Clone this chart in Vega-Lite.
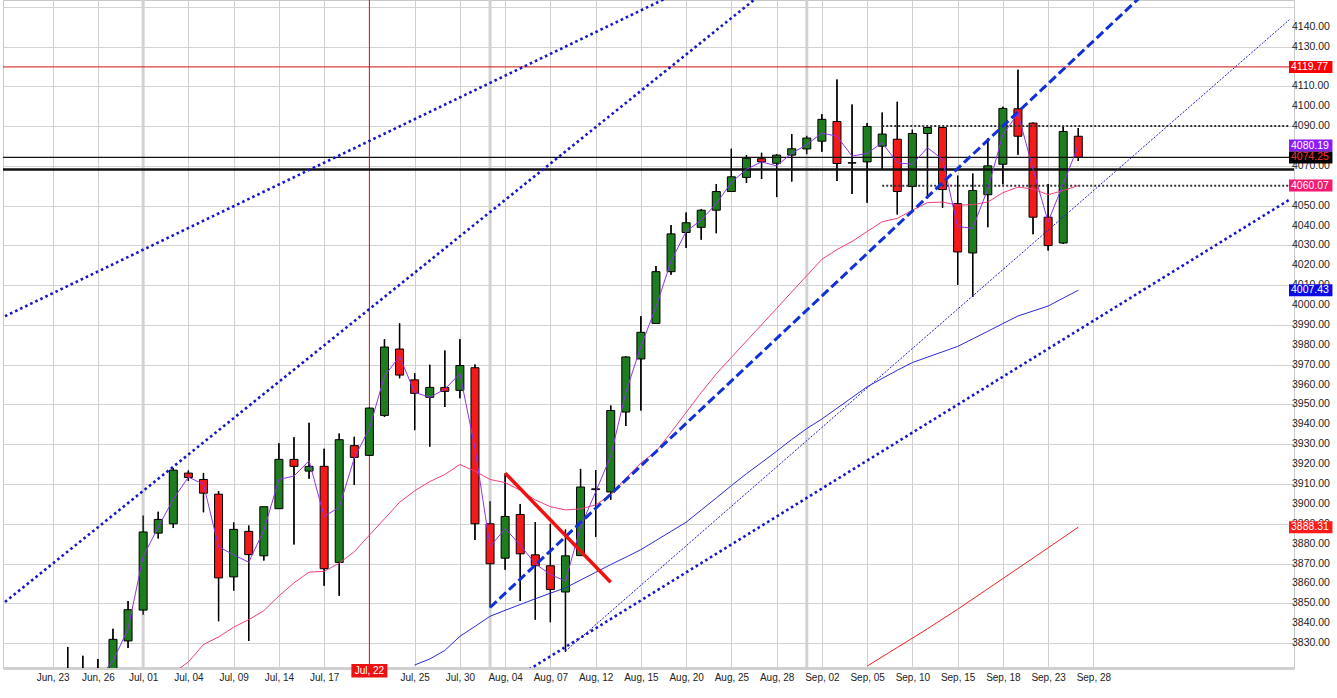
{
  "$schema": "https://vega.github.io/schema/vega-lite/v6.json",
  "width": 1291,
  "height": 668,
  "autosize": "none",
  "padding": {"left": 3, "top": 0, "right": 43, "bottom": 30},
  "background": "white",
  "config": {
    "view": {"stroke": "#c8c8c8"},
    "font": "Liberation Sans",
    "axis": {"labelOverlap": false, "labelFlush": false, "labelFont": "Liberation Sans", "labelColor": "#222", "ticks": false}
  },
  "datasets": {
    "candles": [
      {"i": 1, "o": 3812, "h": 3828.1, "l": 3800, "c": 3815},
      {"i": 2, "o": 3815, "h": 3823.7, "l": 3805, "c": 3812},
      {"i": 3, "o": 3812, "h": 3822, "l": 3800, "c": 3810},
      {"i": 4, "o": 3810, "h": 3837.2, "l": 3805, "c": 3831.9},
      {"i": 5, "o": 3831.1, "h": 3851.2, "l": 3827.6, "c": 3846.8},
      {"i": 6, "o": 3846.6, "h": 3894.2, "l": 3844.3, "c": 3885.9},
      {"i": 7, "o": 3885.3, "h": 3896.1, "l": 3882.6, "c": 3892.2},
      {"i": 8, "o": 3890, "h": 3918.1, "l": 3887.9, "c": 3917},
      {"i": 9, "o": 3915.5, "h": 3916.8, "l": 3911.5, "c": 3913.3},
      {"i": 10, "o": 3912.3, "h": 3915.6, "l": 3895.8, "c": 3905.4},
      {"i": 11, "o": 3904.9, "h": 3906.5, "l": 3841, "c": 3862.8},
      {"i": 12, "o": 3863.3, "h": 3890.7, "l": 3856.4, "c": 3887.2},
      {"i": 13, "o": 3886.2, "h": 3889.2, "l": 3831.1, "c": 3874.5},
      {"i": 14, "o": 3873.9, "h": 3898.6, "l": 3871.6, "c": 3898.6},
      {"i": 15, "o": 3897.6, "h": 3930.5, "l": 3897.6, "c": 3922.4},
      {"i": 16, "o": 3922.4, "h": 3933.5, "l": 3879.6, "c": 3918.9},
      {"i": 17, "o": 3916.5, "h": 3940.8, "l": 3912.7, "c": 3918.9},
      {"i": 18, "o": 3918.9, "h": 3927.7, "l": 3858.8, "c": 3867.4},
      {"i": 19, "o": 3870.6, "h": 3935.4, "l": 3853.8, "c": 3932.3},
      {"i": 20, "o": 3929.3, "h": 3933.8, "l": 3909.5, "c": 3923.4},
      {"i": 21, "o": 3924.4, "h": 3948.5, "l": 3924.2, "c": 3948.2},
      {"i": 22, "o": 3944.5, "h": 3982.8, "l": 3943.7, "c": 3978.9},
      {"i": 23, "o": 3977.9, "h": 3990.8, "l": 3963.2, "c": 3964.8},
      {"i": 24, "o": 3962.4, "h": 3965.7, "l": 3937.1, "c": 3955.6},
      {"i": 25, "o": 3953.6, "h": 3970, "l": 3928.8, "c": 3958.6},
      {"i": 26, "o": 3958.6, "h": 3977.1, "l": 3948.7, "c": 3956.6},
      {"i": 27, "o": 3957.1, "h": 3982.8, "l": 3953.1, "c": 3969.6},
      {"i": 28, "o": 3968.5, "h": 3970.1, "l": 3881.8, "c": 3890},
      {"i": 29, "o": 3890, "h": 3901.3, "l": 3847.9, "c": 3869.9},
      {"i": 30, "o": 3872.7, "h": 3915.3, "l": 3866.9, "c": 3893.7},
      {"i": 31, "o": 3894.7, "h": 3900, "l": 3851.2, "c": 3874.9},
      {"i": 32, "o": 3874.4, "h": 3890.9, "l": 3841.8, "c": 3868.9},
      {"i": 33, "o": 3868.9, "h": 3890, "l": 3840.5, "c": 3857},
      {"i": 34, "o": 3855.7, "h": 3887.1, "l": 3825.7, "c": 3873.9},
      {"i": 35, "o": 3874, "h": 3917.6, "l": 3874, "c": 3908.5},
      {"i": 36, "o": 3907.2, "h": 3917, "l": 3883.4, "c": 3907.6},
      {"i": 37, "o": 3906, "h": 3949.5, "l": 3902.1, "c": 3947},
      {"i": 38, "o": 3946.2, "h": 3974.2, "l": 3939.2, "c": 3973.9},
      {"i": 39, "o": 3972.9, "h": 3994.4, "l": 3947, "c": 3986.3},
      {"i": 40, "o": 3990.8, "h": 4019.6, "l": 3990.8, "c": 4016.8},
      {"i": 41, "o": 4016.8, "h": 4040.3, "l": 4015.2, "c": 4035.8},
      {"i": 42, "o": 4036.5, "h": 4046.5, "l": 4028.7, "c": 4041.4},
      {"i": 43, "o": 4039.1, "h": 4048.2, "l": 4032.8, "c": 4047.7},
      {"i": 44, "o": 4047.7, "h": 4060.9, "l": 4036.1, "c": 4057.1},
      {"i": 45, "o": 4057.1, "h": 4078.6, "l": 4057.1, "c": 4064.5},
      {"i": 46, "o": 4064.2, "h": 4075.4, "l": 4061.4, "c": 4073.8},
      {"i": 47, "o": 4073.6, "h": 4076.6, "l": 4063.4, "c": 4072},
      {"i": 48, "o": 4071.3, "h": 4075.8, "l": 4054.3, "c": 4075.4},
      {"i": 49, "o": 4075.4, "h": 4086, "l": 4062.1, "c": 4078.6},
      {"i": 50, "o": 4078.5, "h": 4085.2, "l": 4075.8, "c": 4084},
      {"i": 51, "o": 4082.4, "h": 4095.9, "l": 4077.1, "c": 4093.4},
      {"i": 52, "o": 4092.3, "h": 4113.4, "l": 4062.4, "c": 4071.2},
      {"i": 53, "o": 4071.6, "h": 4100.9, "l": 4055.9, "c": 4071.4},
      {"i": 54, "o": 4072, "h": 4091.5, "l": 4051.5, "c": 4089.8},
      {"i": 55, "o": 4079.9, "h": 4096.9, "l": 4068, "c": 4086},
      {"i": 56, "o": 4083.4, "h": 4102.2, "l": 4045.6, "c": 4057.1},
      {"i": 57, "o": 4059.6, "h": 4088.2, "l": 4047.7, "c": 4086.3},
      {"i": 58, "o": 4086.3, "h": 4089.3, "l": 4053.5, "c": 4089.3},
      {"i": 59, "o": 4089.3, "h": 4089.5, "l": 4048.9, "c": 4058.1},
      {"i": 60, "o": 4051, "h": 4065.1, "l": 4010.2, "c": 4026.7},
      {"i": 61, "o": 4026.2, "h": 4066.2, "l": 4004, "c": 4057.6},
      {"i": 62, "o": 4055.5, "h": 4084, "l": 4039.1, "c": 4070},
      {"i": 63, "o": 4070.8, "h": 4099.7, "l": 4060.8, "c": 4098.9},
      {"i": 64, "o": 4098.7, "h": 4118.4, "l": 4075.6, "c": 4084.9},
      {"i": 65, "o": 4091.5, "h": 4091.8, "l": 4035.6, "c": 4044.2},
      {"i": 66, "o": 4044.2, "h": 4060.9, "l": 4027.4, "c": 4029.9},
      {"i": 67, "o": 4031.2, "h": 4089.8, "l": 4030.7, "c": 4087.3},
      {"i": 68, "o": 4084.9, "h": 4089, "l": 4072.5, "c": 4074.25}
    ],
    "purple": [
      {"i": 3, "v": 3812}, {"i": 4, "v": 3821}, {"i": 5, "v": 3837.2}, {"i": 6, "v": 3873.5},
      {"i": 7, "v": 3888.4}, {"i": 8, "v": 3902.4}, {"i": 9, "v": 3913.5}, {"i": 10, "v": 3909.9},
      {"i": 11, "v": 3878.5}, {"i": 12, "v": 3874.4}, {"i": 13, "v": 3870.7}, {"i": 14, "v": 3886.7},
      {"i": 15, "v": 3912.3}, {"i": 16, "v": 3914}, {"i": 17, "v": 3921.7}, {"i": 18, "v": 3893.7},
      {"i": 19, "v": 3898.3}, {"i": 20, "v": 3923.1}, {"i": 21, "v": 3937.9}, {"i": 22, "v": 3964.3},
      {"i": 23, "v": 3974.2}, {"i": 24, "v": 3956.1}, {"i": 25, "v": 3953.6}, {"i": 26, "v": 3957.7},
      {"i": 27, "v": 3965.5}, {"i": 28, "v": 3928}, {"i": 29, "v": 3878.5}, {"i": 30, "v": 3887.6},
      {"i": 31, "v": 3879.3}, {"i": 32, "v": 3869.9}, {"i": 33, "v": 3864.5}, {"i": 34, "v": 3861.2},
      {"i": 35, "v": 3888.4}, {"i": 36, "v": 3906}, {"i": 37, "v": 3924}, {"i": 38, "v": 3956.1},
      {"i": 39, "v": 3979.2}, {"i": 40, "v": 3999}, {"i": 41, "v": 4022.1}, {"i": 42, "v": 4037},
      {"i": 43, "v": 4042.8}, {"i": 44, "v": 4051}, {"i": 45, "v": 4061.7}, {"i": 46, "v": 4068.3},
      {"i": 47, "v": 4072}, {"i": 48, "v": 4070}, {"i": 49, "v": 4076.3}, {"i": 50, "v": 4080.7},
      {"i": 51, "v": 4086.5}, {"i": 52, "v": 4084.9}, {"i": 53, "v": 4074.9}, {"i": 54, "v": 4076.3},
      {"i": 55, "v": 4081.6}, {"i": 56, "v": 4071.6}, {"i": 57, "v": 4070.8}, {"i": 58, "v": 4079.1},
      {"i": 59, "v": 4073.3}, {"i": 60, "v": 4039.5}, {"i": 61, "v": 4038.6}, {"i": 62, "v": 4058.4},
      {"i": 63, "v": 4085.7}, {"i": 64, "v": 4096.4}, {"i": 65, "v": 4068.3}, {"i": 66, "v": 4041.9},
      {"i": 67, "v": 4060.9}, {"i": 68, "v": 4080.19}
    ],
    "pink": [
      {"i": 8, "v": 3815}, {"i": 9, "v": 3820.5}, {"i": 10, "v": 3829.3}, {"i": 11, "v": 3833.1},
      {"i": 12, "v": 3838}, {"i": 13, "v": 3841.8}, {"i": 14, "v": 3846.3}, {"i": 15, "v": 3853.7},
      {"i": 16, "v": 3860.3}, {"i": 17, "v": 3865.7}, {"i": 18, "v": 3866.1}, {"i": 19, "v": 3870.2},
      {"i": 20, "v": 3876}, {"i": 21, "v": 3884.3}, {"i": 22, "v": 3892.5}, {"i": 23, "v": 3900.8},
      {"i": 24, "v": 3906.6}, {"i": 25, "v": 3911.2}, {"i": 26, "v": 3914.8}, {"i": 27, "v": 3919.8},
      {"i": 28, "v": 3916.5}, {"i": 29, "v": 3912.3}, {"i": 30, "v": 3910.7}, {"i": 31, "v": 3906.9},
      {"i": 32, "v": 3902}, {"i": 33, "v": 3898.6}, {"i": 34, "v": 3897}, {"i": 35, "v": 3897.5},
      {"i": 36, "v": 3899.5}, {"i": 37, "v": 3904.5}, {"i": 38, "v": 3913}, {"i": 39, "v": 3920.6},
      {"i": 40, "v": 3926.4}, {"i": 41, "v": 3936}, {"i": 42, "v": 3946}, {"i": 43, "v": 3956},
      {"i": 44, "v": 3965.4}, {"i": 45, "v": 3973.7}, {"i": 46, "v": 3981.9}, {"i": 47, "v": 3990.1},
      {"i": 48, "v": 3998.3}, {"i": 49, "v": 4006.6}, {"i": 50, "v": 4014.8}, {"i": 51, "v": 4023},
      {"i": 52, "v": 4027.9}, {"i": 53, "v": 4032}, {"i": 54, "v": 4037}, {"i": 55, "v": 4041.9},
      {"i": 56, "v": 4043.6}, {"i": 57, "v": 4047.7}, {"i": 58, "v": 4051.5}, {"i": 59, "v": 4051.8},
      {"i": 60, "v": 4050.2}, {"i": 61, "v": 4050.5}, {"i": 62, "v": 4051.8}, {"i": 63, "v": 4056.5},
      {"i": 64, "v": 4059.3}, {"i": 65, "v": 4058.4}, {"i": 66, "v": 4055.5}, {"i": 67, "v": 4057.6},
      {"i": 68, "v": 4060.07}
    ],
    "blue": [
      {"i": 24, "v": 3819}, {"i": 25, "v": 3822}, {"i": 26, "v": 3826.3}, {"i": 27, "v": 3833.4},
      {"i": 28, "v": 3838.4}, {"i": 29, "v": 3843.5}, {"i": 30, "v": 3846.5}, {"i": 31, "v": 3849.4},
      {"i": 32, "v": 3852.3}, {"i": 33, "v": 3855.1}, {"i": 34, "v": 3857.8}, {"i": 35, "v": 3861.7},
      {"i": 36, "v": 3865.6}, {"i": 37, "v": 3869.5}, {"i": 38, "v": 3873.2}, {"i": 39, "v": 3877},
      {"i": 40, "v": 3881.6}, {"i": 41, "v": 3886.2}, {"i": 42, "v": 3890.8}, {"i": 43, "v": 3896.9},
      {"i": 44, "v": 3903}, {"i": 45, "v": 3909.2}, {"i": 46, "v": 3915.2}, {"i": 47, "v": 3920.8},
      {"i": 48, "v": 3926.5}, {"i": 49, "v": 3932.4}, {"i": 50, "v": 3937.9}, {"i": 51, "v": 3942.7},
      {"i": 52, "v": 3948.1}, {"i": 53, "v": 3953.5}, {"i": 54, "v": 3958.9}, {"i": 55, "v": 3963.1},
      {"i": 56, "v": 3967.2}, {"i": 57, "v": 3971.1}, {"i": 58, "v": 3973.8}, {"i": 59, "v": 3976.5},
      {"i": 60, "v": 3979.2}, {"i": 61, "v": 3983}, {"i": 62, "v": 3986.8}, {"i": 63, "v": 3990.7},
      {"i": 64, "v": 3994.5}, {"i": 65, "v": 3997}, {"i": 66, "v": 3999.5}, {"i": 67, "v": 4003.5},
      {"i": 68, "v": 4007.43}
    ],
    "redma": [
      {"i": 54, "v": 3818.4}, {"i": 56, "v": 3827.8}, {"i": 58, "v": 3837.2}, {"i": 60, "v": 3847},
      {"i": 62, "v": 3857.3}, {"i": 64, "v": 3867.6}, {"i": 66, "v": 3877.9}, {"i": 68, "v": 3888.31}
    ],
    "ylabels": [
      {"v": 3830}, {"v": 3840}, {"v": 3850}, {"v": 3860}, {"v": 3870}, {"v": 3880}, {"v": 3890}, {"v": 3900},
      {"v": 3910}, {"v": 3920}, {"v": 3930}, {"v": 3940}, {"v": 3950}, {"v": 3960}, {"v": 3970}, {"v": 3980},
      {"v": 3990}, {"v": 4000}, {"v": 4010}, {"v": 4020}, {"v": 4030}, {"v": 4040}, {"v": 4050}, {"v": 4060},
      {"v": 4070}, {"v": 4080}, {"v": 4090}, {"v": 4100}, {"v": 4110}, {"v": 4120}, {"v": 4130}, {"v": 4140}
    ],
    "tags": [
      {"v": 4119.77, "t": "4119.77"},
      {"v": 4080.19, "t": "4080.19"},
      {"v": 4074.25, "t": "4074.25"},
      {"v": 4060.07, "t": "4060.07"},
      {"v": 4007.43, "t": "4007.43"},
      {"v": 3888.31, "t": "3888.31"}
    ]
  },
  "layer": [
    {
      "data": {"name": "candles"},
      "mark": {"type": "rule", "color": "#000", "strokeWidth": 1.3, "clip": true},
      "encoding": {
        "x": {
          "field": "i", "type": "quantitative", "title": null,
          "scale": {"domain": [-2.96, 81.97], "nice": false, "zero": false},
          "axis": {
            "orient": "bottom",
            "values": [0, 3, 6, 9, 12, 15, 18, 21, 24, 27, 30, 33, 36, 39, 42, 45, 48, 51, 54, 57, 60, 63, 66, 69],
            "labelExpr": "['Jun, 23','Jun, 26','Jul, 01','Jul, 04','Jul, 09','Jul, 14','Jul, 17','','Jul, 25','Jul, 30','Aug, 04','Aug, 07','Aug, 12','Aug, 15','Aug, 20','Aug, 25','Aug, 28','Sep, 02','Sep, 05','Sep, 10','Sep, 15','Sep, 18','Sep, 23','Sep, 28'][round(datum.value / 3)]",
            "grid": true, "gridColor": "#cfcfcf", "gridWidth": 1,
            "ticks": false, "labelPadding": 4, "labelFlush": false, "labelOverlap": false,
            "labelFont": "Liberation Sans", "labelFontSize": 10, "labelColor": "#222",
            "domainColor": "#d0d0d0", "domainWidth": 3
          }
        },
        "y": {
          "field": "l", "type": "quantitative", "title": null,
          "scale": {"domain": [3820, 4150.9], "nice": false, "zero": false},
          "axis": {
            "orient": "right",
            "values": [3830, 3840, 3850, 3860, 3870, 3880, 3890, 3900, 3910, 3920, 3930, 3940, 3950, 3960, 3970, 3980, 3990, 4000, 4010, 4020, 4030, 4040, 4050, 4060, 4070, 4080, 4090, 4100, 4110, 4120, 4130, 4140, 4150],
            "labels": false,
            "grid": true, "gridColor": "#d3d3d3", "gridWidth": 1,
            "ticks": false,
            "domainColor": "#c8c8c8", "domainWidth": 1
          }
        },
        "y2": {"field": "h"}
      }
    },
    {
      "data": {"values": [{"i": 6}, {"i": 29}, {"i": 50}]},
      "mark": {"type": "rule", "color": "#d2d2d2", "strokeWidth": 3},
      "encoding": {
        "x": {"field": "i", "type": "quantitative", "title": null}
      }
    },
    {
      "data": {"values": [{"i": 21}]},
      "mark": {"type": "rule", "color": "#e01010", "strokeWidth": 1},
      "encoding": {
        "x": {"field": "i", "type": "quantitative", "title": null}
      }
    },
    {
      "data": {"name": "candles"},
      "mark": {"type": "rule", "color": "#000", "strokeWidth": 1.3, "clip": true},
      "encoding": {
        "x": {"field": "i", "type": "quantitative", "title": null},
        "y": {"field": "l", "type": "quantitative", "title": null},
        "y2": {"field": "h"}
      }
    },
    {
      "data": {"name": "candles"},
      "mark": {"type": "bar", "size": 8, "stroke": "#000", "strokeWidth": 1, "clip": true},
      "encoding": {
        "x": {"field": "i", "type": "quantitative", "title": null},
        "y": {"field": "o", "type": "quantitative", "title": null},
        "y2": {"field": "c"},
        "color": {"condition": {"test": "datum.c >= datum.o", "value": "#1e7d1e"}, "value": "#f41a1a"}
      }
    },
    {
      "data": {"values": [{"v": 4119.77}]},
      "mark": {"type": "rule", "color": "#d01010", "strokeWidth": 1},
      "encoding": {"y": {"field": "v", "type": "quantitative", "title": null}}
    },
    {
      "data": {"values": [{"v": 4074.25}]},
      "mark": {"type": "rule", "color": "#111", "strokeWidth": 1.2},
      "encoding": {"y": {"field": "v", "type": "quantitative", "title": null}}
    },
    {
      "data": {"values": [{"v": 4068.2}]},
      "mark": {"type": "rule", "color": "#111", "strokeWidth": 2.5},
      "encoding": {"y": {"field": "v", "type": "quantitative", "title": null}}
    },
    {
      "data": {"values": [{"v": 4090, "a": 55, "b": 81.97}, {"v": 4060, "a": 55, "b": 81.97}]},
      "mark": {"type": "rule", "color": "#333", "strokeWidth": 2, "strokeDash": [2, 2]},
      "encoding": {
        "x": {"field": "a", "type": "quantitative", "title": null},
        "x2": {"field": "b"},
        "y": {"field": "v", "type": "quantitative", "title": null}
      }
    },
    {
      "data": {"name": "blue"},
      "mark": {"type": "line", "color": "#2a2ad8", "strokeWidth": 1, "clip": true},
      "encoding": {
        "x": {"field": "i", "type": "quantitative", "title": null},
        "y": {"field": "v", "type": "quantitative", "title": null}
      }
    },
    {
      "data": {"name": "pink"},
      "mark": {"type": "line", "color": "#f23d7c", "strokeWidth": 1, "clip": true},
      "encoding": {
        "x": {"field": "i", "type": "quantitative", "title": null},
        "y": {"field": "v", "type": "quantitative", "title": null}
      }
    },
    {
      "data": {"name": "redma"},
      "mark": {"type": "line", "color": "#f02020", "strokeWidth": 1, "clip": true},
      "encoding": {
        "x": {"field": "i", "type": "quantitative", "title": null},
        "y": {"field": "v", "type": "quantitative", "title": null}
      }
    },
    {
      "data": {"name": "purple"},
      "mark": {"type": "line", "color": "#9032f0", "strokeWidth": 1, "clip": true},
      "encoding": {
        "x": {"field": "i", "type": "quantitative", "title": null},
        "y": {"field": "v", "type": "quantitative", "title": null}
      }
    },
    {
      "data": {"values": [
        {"s": "a", "i": -3.16, "v": 3994.4}, {"s": "a", "i": 41, "v": 4155.5},
        {"s": "b", "i": -3.16, "v": 3850.7}, {"s": "b", "i": 47, "v": 4156.5},
        {"s": "c", "i": 30, "v": 3809.3}, {"s": "c", "i": 82, "v": 4053}
      ]},
      "mark": {"type": "line", "color": "#1616c8", "strokeWidth": 2.6, "strokeDash": [2.6, 3], "clip": true},
      "encoding": {
        "x": {"field": "i", "type": "quantitative", "title": null},
        "y": {"field": "v", "type": "quantitative", "title": null},
        "detail": {"field": "s"}
      }
    },
    {
      "data": {"values": [{"i": 34, "v": 3826}, {"i": 82, "v": 4143.5}]},
      "mark": {"type": "line", "color": "#1a1ad8", "strokeWidth": 1, "strokeDash": [2, 1.5], "clip": true},
      "encoding": {
        "x": {"field": "i", "type": "quantitative", "title": null},
        "y": {"field": "v", "type": "quantitative", "title": null}
      }
    },
    {
      "data": {"values": [{"i": 29, "v": 3847.9}, {"i": 72, "v": 4154.1}]},
      "mark": {"type": "line", "color": "#1030d8", "strokeWidth": 3, "strokeDash": [9, 4], "clip": true},
      "encoding": {
        "x": {"field": "i", "type": "quantitative", "title": null},
        "y": {"field": "v", "type": "quantitative", "title": null}
      }
    },
    {
      "data": {"values": [{"i": 30, "v": 3915.5}, {"i": 37, "v": 3860.6}]},
      "mark": {"type": "line", "color": "#f01010", "strokeWidth": 3.5, "clip": true},
      "encoding": {
        "x": {"field": "i", "type": "quantitative", "title": null},
        "y": {"field": "v", "type": "quantitative", "title": null}
      }
    },
    {
      "data": {"name": "ylabels"},
      "mark": {"type": "text", "align": "left", "baseline": "middle", "dx": 3, "fontSize": 10.5, "color": "#222", "clip": false},
      "encoding": {
        "x": {"datum": 81.97, "type": "quantitative", "title": null},
        "y": {"field": "v", "type": "quantitative", "title": null},
        "text": {"field": "v", "format": ".2f"}
      }
    },
    {
      "data": {"name": "tags"},
      "mark": {"type": "bar", "orient": "horizontal", "size": 12, "clip": false},
      "encoding": {
        "x": {"datum": 81.97, "type": "quantitative", "title": null},
        "x2": {"datum": 84.85},
        "y": {"field": "v", "type": "quantitative", "title": null},
        "color": {
          "field": "t", "type": "nominal", "legend": null,
          "scale": {
            "domain": ["4119.77", "4080.19", "4074.25", "4060.07", "4007.43", "3888.31"],
            "range": ["#ff0000", "#8c1cf5", "#000000", "#f7196f", "#0a0ae6", "#ff1a1a"]
          }
        }
      }
    },
    {
      "data": {"name": "tags"},
      "mark": {"type": "text", "align": "left", "baseline": "middle", "dx": 2, "fontSize": 10.5, "clip": false},
      "encoding": {
        "x": {"datum": 81.97, "type": "quantitative", "title": null},
        "y": {"field": "v", "type": "quantitative", "title": null},
        "text": {"field": "t"},
        "color": {"condition": {"test": "datum.t == '4074.25'", "value": "#ff3030"}, "value": "#ffffff"}
      }
    },
    {
      "data": {"values": [{"i": 21, "t": "Jul, 22"}]},
      "mark": {"type": "bar", "size": 36, "color": "#ee1111", "clip": false},
      "encoding": {
        "x": {"field": "i", "type": "quantitative", "title": null},
        "y": {"datum": 3812.7, "type": "quantitative", "title": null},
        "y2": {"datum": 3819.5}
      }
    },
    {
      "data": {"values": [{"i": 21, "t": "Jul, 22"}]},
      "mark": {"type": "text", "color": "#ffffff", "fontSize": 10, "baseline": "middle", "clip": false},
      "encoding": {
        "x": {"field": "i", "type": "quantitative", "title": null},
        "y": {"datum": 3816.1, "type": "quantitative", "title": null},
        "text": {"field": "t"}
      }
    }
  ],
  "resolve": {"scale": {"color": "independent"}}
}
